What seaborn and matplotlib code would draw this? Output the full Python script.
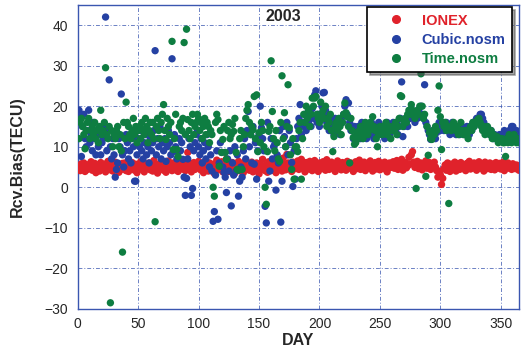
import numpy as np
import pandas as pd
import matplotlib
matplotlib.use("Agg")
import matplotlib.pyplot as plt
import seaborn as sns

# --- data ---
days = np.arange(1, 366)

ionex = [
    5.2, 4.1, 5.8, 4.6, 6.0, 3.9, 5.1, 4.4, 5.6, 4.8, 6.3, 4.2, 5.0, 5.9, 3.6, 4.7, 5.5, 4.0, 6.1, 5.3,
    4.5, 5.7, 3.8, 4.9, 6.4, 5.1, 4.3, 5.6, 4.0, 5.2, 6.2, 4.6, 5.4, 3.7, 5.0, 4.4, 5.9, 4.8, 6.0, 4.1,
    5.3, 3.9, 5.6, 4.5, 6.1, 5.0, 4.2, 5.7, 3.6, 4.9, 5.5, 6.3, 4.4, 5.1, 3.8, 5.8, 4.6, 5.2, 6.0, 4.3,
    5.4, 4.0, 6.6, 5.1, 4.5, 3.5, 5.7, 4.8, 6.2, 5.0, 4.2, 5.9, 3.7, 5.3, 6.5, 4.6, 5.0, 4.1, 6.0, 5.4,
    4.3, 5.7, 3.9, 5.2, 6.8, 4.5, 5.0, 6.3, 4.1, 5.5, 8.6, 4.7, 5.9, 3.8, 5.3, 6.1, 4.4, 5.6, 4.9, 6.4,
    5.0, 4.2, 5.8, 3.6, 6.2, 4.8, 5.4, 4.0, 6.0, 5.1, 4.5, 5.7, 3.4, 5.2, 6.7, 4.3, 5.5, 4.9, 6.3, 3.8,
    5.1, 4.6, 7.0, 5.4, 3.9, 5.8, 4.4, 6.1, 5.0, 3.5, 5.6, 4.7, 6.4, 5.2, 4.0, 5.9, 3.6, 5.3, 6.6, 4.5,
    5.0, 4.2, 5.7, 6.2, 3.8, 5.4, 4.6, 6.0, 5.1, 3.3, 5.8, 4.4, 6.9, 5.2, 4.1, 5.5, 3.7, 6.3, 4.8, 5.6,
    4.2, 6.1, 5.0, 3.6, 5.7, 4.5, 6.4, 5.3, 4.0, 7.2, 5.6, 4.3, 8.1, 6.0, 4.7, 5.4, 3.9, 6.2, 5.1, 4.6,
    5.8, 6.5, 4.4, 5.2, 6.9, 4.8, 5.6, 3.8, 6.1, 5.3, 4.5, 6.4, 5.0, 4.1, 5.9, 6.6, 4.7, 5.4, 3.9, 6.0,
    5.2, 4.6, 6.3, 5.5, 4.2, 6.8, 5.1, 4.4, 5.9, 6.2, 4.8, 5.3, 3.9, 5.7, 6.5, 4.9, 5.4, 4.3, 6.1, 5.0,
    5.6, 4.2, 6.4, 5.1, 4.7, 6.0, 5.5, 3.9, 5.8, 6.3, 4.6, 5.2, 6.7, 4.4, 5.6, 5.0, 6.2, 4.1, 5.4, 5.9,
    4.8, 6.5, 5.3, 4.0, 5.7, 6.1, 4.5, 5.0, 6.4, 4.3, 5.6, 5.9, 4.6, 6.2, 5.1, 3.8, 5.5, 6.0, 4.9, 5.3,
    6.3, 4.7, 5.4, 6.6, 4.4, 5.8, 5.0, 6.9, 4.2, 5.6, 6.1, 4.8, 5.3, 7.4, 5.7, 8.0, 8.8, 6.2, 4.9, 5.5,
    6.4, 4.6, 5.1, 6.0, 4.3, 5.8, 5.2, 6.5, 4.7, 5.4, 6.1, 4.4, 5.6, 4.9, 6.2, 5.0, 4.1, 2.5, 4.0, 3.1,
    0.7, 2.2, 4.6, 5.5, 4.2, 6.0, 5.1, 3.9, 5.7, 4.5, 5.3, 6.2, 4.0, 5.0, 5.8, 4.4, 6.1, 5.2, 4.6, 5.5,
    4.1, 5.9, 5.0, 6.4, 4.5, 5.3, 4.8, 6.0, 5.6, 4.2, 5.4, 6.3, 4.7, 5.1, 5.8, 4.0, 6.2, 5.5, 4.6, 5.2,
    6.0, 4.4, 5.7, 5.0, 4.3, 6.1, 5.3, 4.8, 5.9, 4.5, 5.4, 6.2, 4.1, 5.6, 5.0, 6.0, 4.7, 5.3, 4.4, 5.8,
    5.1, 4.6, 5.5, 4.9, 4.2,
]

cubic = [
    19, 17.4, 7.6, 15, 18, 12, 10, 14, 19, 11,
    13, 9, 16, 12, 8, 14, 10, 13, 8, 11,
    12, 15, 42, 9, 14, 26.5, 10, 7, 12, 8,
    2.5, 4.4, 6, 12, 10, 23, 8, 5, 9, 13,
    11, 7, 9, 6, 12, 10, 1.5, 1.5, 8, 12,
    10, 14, 9, 7, 11, 13, 8, 10, 6, 12,
    9, 11, 14, 33.7, 8, 12, 10, 15, 7, 11,
    9, 12, 6.4, 10, 14, 11, 8, 31.7, 8.8, 13,
    10, 7, 8.8, 12, 9, 11, 6.9, 2.5, -2, 2.2,
    7, 12, 10, -2, -0.3, 9, 11, 13, 14, 10,
    8, 12, 6, 9, 11, 7, 13, 10, 5, 8,
    4, -8.4, -6, 3, 9, -7.9, 6, 11, 8.6, 5,
    3.7, 2.5, -1.3, 7, 4, 9, -4.6, 6, 3, 10,
    4, 8, -2.2, 1.5, 5, 2.5, 9, 12, 7, 14,
    18.7, 10, 13, 6, 15, 5.7, 11, 2, 9, 13,
    20, 14.7, 12, 9, -4.7, -8.8, 16, 1.5, 4, 12,
    7, 10, 10.6, -0.7, 8, 6, 14, -8.6, 1.5, 15,
    12.5, 10, 16, 8, 14, 11, 6.1, 0.2, 9, 2,
    12, 15, 17, 20.4, 13, 16, 15, 18, 14, 17,
    16, 19, 15, 19.4, 17, 22.8, 23.8, 16, 18, 15,
    17, 20, 23.3, 23.4, 19, 16, 18, 14, 17, 16,
    15, 13, 17, 14, 16, 15, 13, 17, 16, 18,
    20, 21.6, 17.9, 20.8, 16, 14, 14.2, 12, 15, 14.2,
    13, 15, 14, 12, 16, 13, 14, 15, 12, 14,
    15, 13, 16, 14, 12, 15, 13, 14, 16, 15,
    13, 15, 14, 12, 15, 16, 14, 13, 15, 14,
    16, 15, 14, 16, 13, 15, 17, 26, 12.5, 15,
    16, 17, 15, 18, 17, 19, 18, 17, 16, 18,
    17, 19, 18, 20, 18, 17, 25.3, 16, 15, 14,
    13, 11.8, 12, 14, 13, 12, 13.5, 15, 16, 14,
    15, 16, 14, 15, 16, 14, 15, 13, 14, 16,
    15, 14, 13, 15, 14, 13, 14, 15, 14, 13,
    14, 15, 14, 13, 15, 14, 16, 15, 16, 17,
    17, 16, 18, 18, 17, 16, 15, 15, 14, 14,
    13, 14, 13, 12, 13, 12, 12.5, 12, 13, 12,
    13, 12, 14, 13, 12, 13, 14, 13, 15, 15, 14, 13, 14, 13, 12,
]

timen = [
    12, 16, 17, 15, 13, 9.5, 14, 16, 17, 12,
    14, 15, 13, 16, 12, 14, 11, 15, 19, 13,
    14, 16, 29.5, 13, 12, 15, -28.5, 14, 10, 13,
    12, 14, 15, 10, 13, 9, -16, 16, 12, 21,
    16, 15, 13, 12, 14, 17, 13, 15, 11, 14,
    15, 12, 16, 14, 13, 17, 15, 11, 14, 16,
    13, 16, 12, -8.5, 15, 17, 14, 12, 16, 18,
    20.4, 14, 11.8, 17, 15, 13, 16, 36, 9.3, 12,
    18, 9.3, 7.6, 15, 16, 14, 17, 35.7, 13, 39,
    16.7, 14, 12, 16, 18, 13, 15, 16, 18, 17,
    14, 16, 12, 15, 17, 13, 16, 15, 11, 14,
    13, 0, -2.2, 16, 18, 16.7, 5.2, 14, 8.6, 11.8,
    15, 8.6, 6.9, 14, 16, 12, 13, 15.5, 13.8, 17,
    8.6, 4.4, 4.2, 12, 14, 4.4, 10, 13, 17, 19,
    20.4, 16, 13, 15, 14.2, 22.4, 12, 22.8, 8.8, 13.5,
    11, 16, 14, 10, 0, -4.2, 8.8, 13.8, 15, 31.2,
    18.7, 12, 9, 14, 11, 7, 6.4, 16, 27.5, 12,
    18.4, 10, 15, 25.3, 14.7, 8, 4.4, 12, 2, 10,
    10, 8.8, 14, 16, 2, 12, 18, 16, 20, 17,
    19, 15, 18, 22, 20, 22, 22.4, 18, 17, 16,
    21, 18, 19, 17, 20, 15, 17, 16, 18, 14,
    8.8, 12.5, 15, 16, 14, 17, 15, 13, 16, 18,
    20.8, 18.4, 17.4, 15, 6, 17, 14, 12.3, 10.6, 11,
    13.5, 12, 14, 15, 13, 12, 14, 16, 15, 13,
    14, 16, 15, 17.4, 15, 14, 12, 10, 13, 15,
    14, 13, 15, 14, 16, 13, 14, 15, 12, 14,
    15, 14, 16, 13, 15, 17, 22.6, 22.4, 15, 16,
    17, 16, 18, 19, 18, 20.4, 19, 18, 17, -0.3,
    19, 18, 20, 28, 20, 17, 18, 2.7, 15, 7.9,
    13.5, 12, 11.8, 14, 13, 15, 14, 19, 25, 17.4,
    9.3, 16, 15, 16, 14, 15, -4, 15, 14, 15,
    16, 15, 14, 15, 13, 14, 16, 14, 13, 13.5,
    14, 13, 12, 14, 15, 14, 16, 15, 16, 16,
    16.7, 17, 16, 15, 14, 15, 13, 14, 15, 14,
    13, 14, 12, 13, 12.5, 12, 12.5, 11, 12, 11.8,
    12, 11, 11, 7.6, 12, 11, 13, 12, 11, 12, 13, 11.8, 11, 12, 11,
]

names = ["IONEX", "Cubic.nosm", "Time.nosm"]
colors = ["#e0222b", "#2541a3", "#0e7d41"]

df = pd.concat([
    pd.DataFrame({"day": days, "bias": ionex, "src": names[0]}),
    pd.DataFrame({"day": days, "bias": cubic, "src": names[1]}),
    pd.DataFrame({"day": days, "bias": timen, "src": names[2]}),
], ignore_index=True)

sns.set_style("white")
plt.rcParams["font.family"] = ["Liberation Sans", "DejaVu Sans"]

fig = plt.figure(figsize=(5.22, 3.49), dpi=100)
ax = fig.add_axes([0.149, 0.115, 0.845, 0.871])

sns.scatterplot(data=df, x="day", y="bias", hue="src", hue_order=names,
                palette=colors, s=28, linewidth=0, ax=ax, legend=False, zorder=3)

grid_c = "#3a56b0"
ax.set_xlim(0, 365)
ax.set_ylim(-30, 45)
ax.set_xticks(range(0, 351, 50))
ax.set_yticks(range(-30, 41, 10))
ax.grid(True, color=grid_c, linestyle=(0, (4, 2, 1, 2)), linewidth=0.7, alpha=0.75)
for sp in ax.spines.values():
    sp.set_color(grid_c)
    sp.set_linewidth(1.0)
ax.tick_params(length=0, labelsize=10)
ax.tick_params(axis="y", pad=7)
ax.tick_params(axis="x", pad=5.5)

ax.set_xlabel("DAY", fontsize=11.5, fontweight="bold", labelpad=2)
ax.set_ylabel("Rcv.Bias(TECU)", fontsize=11.5, fontweight="bold", labelpad=14)
ax.text(170, 42.2, "2003", fontsize=11.5, fontweight="bold", ha="center", va="center")

handles = [plt.Line2D([], [], marker="o", linestyle="", color=c, markersize=5.5) for c in colors]
leg = ax.legend(handles, names, loc="upper right", bbox_to_anchor=(0.985, 0.993),
                frameon=True, fancybox=False, shadow=True, framealpha=1,
                edgecolor="black", prop={"weight": "bold", "size": 10.5},
                handlelength=3.0, handletextpad=0.3, borderpad=0.45, labelspacing=0.35,
                borderaxespad=0)
leg.get_frame().set_linewidth(1.2)
for t, c in zip(leg.get_texts(), colors):
    t.set_color(c)
leg.set_zorder(5)

fig.savefig("out.png", dpi=100)
